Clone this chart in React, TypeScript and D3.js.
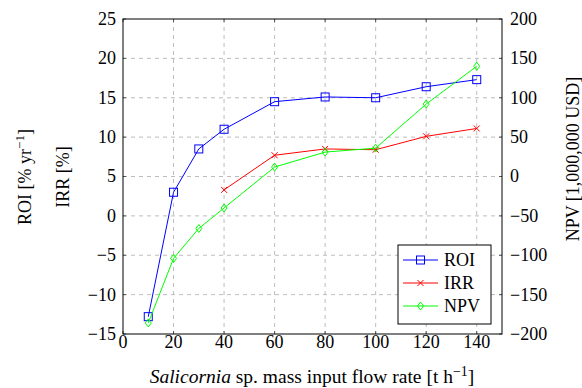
import * as d3 from 'd3';

const flowRates = [10, 20, 30, 40, 60, 80, 100, 120, 140];
const roiValues = [-12.8, 3.0, 8.5, 11.0, 14.5, 15.1, 15.0, 16.4, 17.3];
const irrRates = [40, 60, 80, 100, 120, 140];
const irrValues = [3.3, 7.7, 8.5, 8.4, 10.1, 11.1];
const npvValues = [-186, -104, -66, -40, 12, 31, 36, 92, 140];

const xTicks = [0, 20, 40, 60, 80, 100, 120, 140];
const leftTicks = [-15, -10, -5, 0, 5, 10, 15, 20, 25];
const rightTicks = [-200, -150, -100, -50, 0, 50, 100, 150, 200];

const W = 582;
const H = 388;
const FONT = 'Liberation Serif';

const fmt = (v: number) => (v < 0 ? '\u2212' + Math.abs(v) : String(v));

function Marker({ kind, x, y, color }: { kind: string; x: number; y: number; color: string }) {
  if (kind === 'square') {
    return <rect x={x - 4} y={y - 4} width={8} height={8} fill="none" stroke={color} strokeWidth={1} />;
  }
  if (kind === 'cross') {
    return (
      <path d={`M${x - 3},${y - 3}L${x + 3},${y + 3}M${x - 3},${y + 3}L${x + 3},${y - 3}`} stroke={color} strokeWidth={1} />
    );
  }
  return <path d={`M${x},${y - 4}L${x + 3},${y}L${x},${y + 4}L${x - 3},${y}Z`} fill="none" stroke={color} strokeWidth={1} />;
}

export default function App() {
  const left = 123;
  const right = 502;
  const top = 19;
  const bottom = 334;

  const x = d3.scaleLinear().domain([0, 150]).range([left, right]);
  const yL = d3.scaleLinear().domain([-15, 25]).range([bottom, top]);
  const yR = d3.scaleLinear().domain([-200, 200]).range([bottom, top]);

  const line = d3.line<[number, number]>().x((d) => d[0]).y((d) => d[1]);

  const roiPts: [number, number][] = flowRates.map((f, i) => [x(f), yL(roiValues[i])]);
  const irrPts: [number, number][] = irrRates.map((f, i) => [x(f), yL(irrValues[i])]);
  const npvPts: [number, number][] = flowRates.map((f, i) => [x(f), yR(npvValues[i])]);

  const series = [
    { name: 'ROI', pts: roiPts, color: '#0000ff', kind: 'square' },
    { name: 'IRR', pts: irrPts, color: '#ff0000', kind: 'cross' },
    { name: 'NPV', pts: npvPts, color: '#00ff00', kind: 'diamond' },
  ];

  const legX = 398;
  const legY = 245;
  const legW = 93;
  const legH = 79;

  return (
    <svg width={W} height={H} style={{ position: 'absolute', left: 0, top: 0, background: '#fff' }}>
      {/* grid */}
      <g stroke="#bdbdbd" strokeWidth={1} strokeDasharray="4,4">
        {xTicks.filter((t) => t > 0).map((t) => (
          <line key={'gx' + t} x1={x(t)} x2={x(t)} y1={top} y2={bottom} />
        ))}
        {leftTicks.filter((t) => t > -15 && t < 25).map((t) => (
          <line key={'gy' + t} x1={left} x2={right} y1={yL(t)} y2={yL(t)} />
        ))}
      </g>
      {/* inner ticks */}
      <g stroke="#555" strokeWidth={1}>
        {xTicks.map((t) => (
          <g key={'tx' + t}>
            <line x1={x(t)} x2={x(t)} y1={bottom} y2={bottom - 3} />
            <line x1={x(t)} x2={x(t)} y1={top} y2={top + 3} />
          </g>
        ))}
        {leftTicks.map((t) => (
          <line key={'tl' + t} x1={left} x2={left + 3} y1={yL(t)} y2={yL(t)} />
        ))}
        {rightTicks.map((t) => (
          <line key={'tr' + t} x1={right} x2={right - 3} y1={yR(t)} y2={yR(t)} />
        ))}
      </g>

      {/* series */}
      {series.map((s) => (
        <g key={s.name}>
          <path d={line(s.pts) || ''} fill="none" stroke={s.color} strokeWidth={1} />
          {s.pts.map((p, i) => (
            <Marker key={i} kind={s.kind} x={p[0]} y={p[1]} color={s.color} />
          ))}
        </g>
      ))}

      {/* frame */}
      <rect x={left} y={top} width={right - left} height={bottom - top} fill="none" stroke="#000" strokeWidth={1} />

      {/* tick labels */}
      <g fontSize={18} fill="#000" fontFamily={FONT}>
        {xTicks.map((t) => (
          <text key={'lx' + t} x={x(t)} y={bottom + 14} textAnchor="middle" fontFamily={FONT}>
            {t}
          </text>
        ))}
        {leftTicks.map((t) => (
          <text key={'ll' + t} x={left - 7} y={yL(t)} dy="0.33em" textAnchor="end" fontFamily={FONT}>
            {fmt(t)}
          </text>
        ))}
        {rightTicks.map((t) => (
          <text key={'lr' + t} x={right + 8} y={yR(t)} dy="0.33em" textAnchor="start" fontFamily={FONT}>
            {fmt(t)}
          </text>
        ))}
      </g>

      {/* axis titles */}
      <g fontSize={18} fill="#000" fontFamily={FONT}>
        <text transform={`translate(31,177) rotate(-90)`} textAnchor="middle">
          ROI [% yr
          <tspan dy={-7} fontSize={13}>
            {'\u22121'}
          </tspan>
          <tspan dy={7}>]</tspan>
        </text>
        <text transform={`translate(69,177) rotate(-90)`} textAnchor="middle">
          IRR [%]
        </text>
        <text transform={`translate(579,159) rotate(-90)`} textAnchor="middle">
          NPV [1,000,000 USD]
        </text>
        <text x={312} y={383} textAnchor="middle" fontSize={19.5}>
          <tspan fontStyle="italic">Salicornia</tspan> sp. mass input flow rate [t h
          <tspan dy={-7} fontSize={14}>
            {'\u22121'}
          </tspan>
          <tspan dy={7}>]</tspan>
        </text>
      </g>

      {/* legend */}
      <g fontFamily={FONT}>
        <rect x={legX} y={legY} width={legW} height={legH} fill="#fff" stroke="#000" strokeWidth={1} />
        {series.map((s, i) => {
          const cy = legY + 15 + i * 23;
          return (
            <g key={'leg' + s.name}>
              <line x1={legX + 5} x2={legX + 40} y1={cy} y2={cy} stroke={s.color} strokeWidth={1} />
              <Marker kind={s.kind} x={legX + 22.5} y={cy} color={s.color} />
              <text x={legX + 46} y={cy} dy="0.33em" fontSize={18}>
                {s.name}
              </text>
            </g>
          );
        })}
      </g>
    </svg>
  );
}
